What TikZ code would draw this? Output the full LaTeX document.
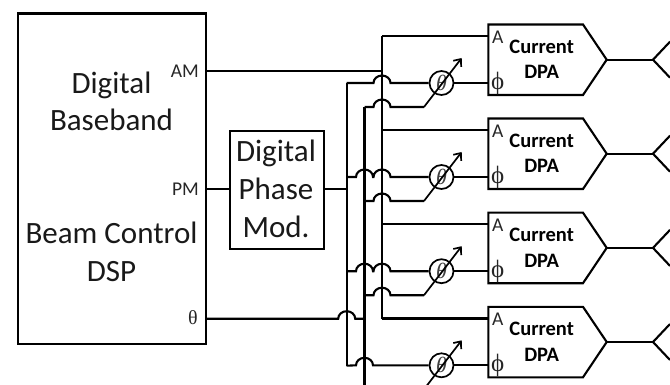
\documentclass[tikz,border=0pt]{standalone}
\usepackage{fontspec}
\setmainfont{Carlito}
\newfontfamily\serifgr{Liberation Serif}
\usetikzlibrary{arrows.meta}
\tikzset{
  block/.style={draw,line width=2.1pt,inner sep=0pt,anchor=north west},
  wire/.style={line width=2.1pt,line join=miter},
  txtbig/.style={align=center,inner sep=0pt,font=\fontsize{31}{37.7}\selectfont,text=black!90},
  txtport/.style={inner sep=0pt,font=\fontsize{19.5}{22}\selectfont,text=black!85},
  txtdpa/.style={align=center,inner sep=0pt,font=\fontsize{20.5}{25.5}\selectfont\bfseries,text=black},
  shifter/.style={draw,circle,line width=1.7pt,minimum size=24pt,inner sep=0pt,font=\fontsize{22}{22}\serifgr\itshape\selectfont,text=black!75},
  gatearrow/.style={line width=1.7pt,-{Straight Barb[length=6pt,width=10pt,line width=1.7pt]}}
}
\newcommand{\hp}[2]{-- (#1-8.5,#2) arc[start angle=180,end angle=0,x radius=8.5,y radius=7.5]}
\begin{document}
\begin{tikzpicture}[x=1pt,y=1pt]
\useasboundingbox (0,0) rectangle (670,-385);
\clip (0,0) rectangle (670,-385);
% blocks
\node[block,minimum width=187.5pt,minimum height=330pt] (base) at (17,-12.5) {};
\node[block,minimum width=94pt,minimum height=118pt] (phase) at (229,-130) {};
\node[txtbig] (bbtext) at (111.5,-101.5) {Digital\\Baseband};
\node[txtbig] (bctext) at (111.5,-252) {Beam Control\\DSP};
\node[txtbig] (phtext) at (276,-189) {Digital\\Phase\\Mod.};
\node[txtport,anchor=east] (amlab) at (199,-71.5) {AM};
\node[txtport,anchor=east] (pmlab) at (199,-189) {PM};
\node[txtport,anchor=east,font=\fontsize{20}{22}\serifgr\selectfont] (thlab) at (198,-318) {θ};
% junction coordinates
\coordinate (amj) at (382,-71);
\coordinate (pmj) at (347,-189);
\coordinate (thj) at (364.5,-318.7);
\coordinate (outam) at (base.east |- amj);
\coordinate (outpm) at (base.east |- pmj);
\coordinate (outth) at (base.east |- thj);
\coordinate (phin) at (phase.west |- pmj);
\coordinate (phout) at (phase.east |- pmj);
% DPAs
\foreach \i/\yy in {1/24.5,2/118.5,3/212.7,4/306.8}{
  \coordinate (nw\i) at (488.3,-\yy);
  \coordinate (ne\i) at (583,-\yy);
  \coordinate (tip\i) at (606.7,-\yy-35.2);
  \coordinate (se\i) at (583,-\yy-70.5);
  \coordinate (sw\i) at (488.3,-\yy-70.5);
  \coordinate (a\i) at (488.3,-\yy-11.7);
  \coordinate (p\i) at (488.3,-\yy-58.5);
  \coordinate (ant\i) at (653,-\yy-35.2);
  \coordinate (antu\i) at (670,-\yy-35.2+18);
  \coordinate (antd\i) at (670,-\yy-35.2-18);
  \coordinate (ga\i) at (424,-\yy-82.5);
  \coordinate (gt\i) at (461.7,-\yy-33.5);
  \draw[wire] (nw\i) -- (ne\i) -- (tip\i) -- (se\i) -- (sw\i) -- cycle;
  \node[txtdpa] (dpa\i) at (541.7,-\yy-35) {Current\\DPA};
  \node[inner sep=0pt,font=\fontsize{19.5}{22}\selectfont,text=black!85] (la\i) at (497.7,-\yy-12.5) {A};
  \node[inner sep=0pt,font=\fontsize{25}{25}\serifgr\selectfont,text=black!85] (lp\i) at (497.7,-\yy-58.5) {ϕ};
  \node[shifter] (ps\i) at (441.5,-\yy-58.5) {θ};
  \draw[wire] (ps\i.east) -- (p\i);
  \draw[wire] (tip\i) -- (ant\i);
  \draw[wire] (antu\i) -- (ant\i) -- (antd\i);
  \draw[gatearrow] (ga\i) -- (gt\i);
}
% AM and PM
\draw[wire,line width=2.4pt] (outam) -- (amj);
\draw[wire] (outpm) -- (phin);
\draw[wire] (phout) -- (pmj);
% verticals
\draw[wire,line width=2.4pt] (a1 -| amj) -- (a4 -| amj);
\foreach \i in {1,2,3,4}{\draw[wire] (a\i -| amj) -- (a\i);}
\coordinate (v1top) at (346.7,-83);
\coordinate (v1bot) at (346.7,-365.7);
\coordinate (v2top) at (364.5,-107);
\coordinate (v2bot) at (364.5,-385);
\draw[wire] (v1top) -- (v1bot);
\draw[wire] (v2top) -- (v2bot);
% phase feeds
\draw[wire] (v1top) \hp{382}{-83} -- (ps1.west);
\draw[wire] (346.7,-177) \hp{364.5}{-177} \hp{382}{-177} -- (ps2.west);
\draw[wire] (346.7,-271.2) \hp{364.5}{-271.2} \hp{382}{-271.2} -- (ps3.west);
\draw[wire] (v1bot) \hp{364.5}{-365.3} -- (ps4.west);
% gate feeds
\draw[wire] (v2top) \hp{382}{-107} -- (ga1);
\draw[wire] (364.5,-201) \hp{382}{-201} -- (ga2);
\draw[wire] (364.5,-295.2) \hp{382}{-295.2} -- (ga3);
% theta
\draw[wire] (outth) \hp{346.7}{-318.7} -- (thj);
\end{tikzpicture}
\end{document}
